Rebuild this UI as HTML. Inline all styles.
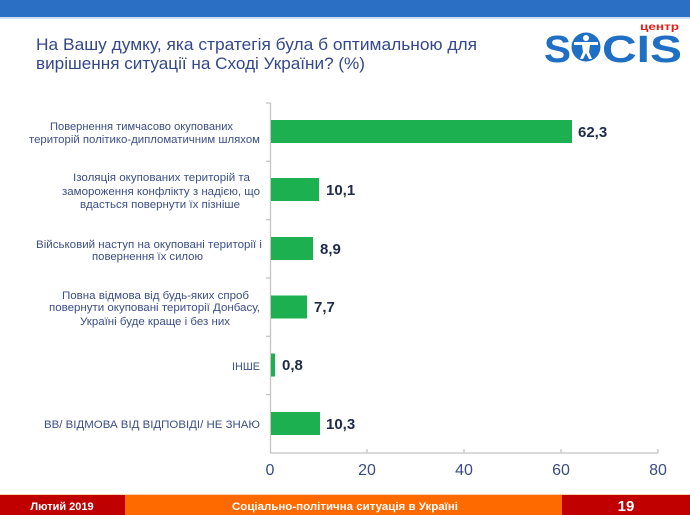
<!DOCTYPE html>
<html><head><meta charset="utf-8"><style>
html,body{margin:0;padding:0;background:#fff;}
svg{display:block;}
</style></head><body>
<svg width="690" height="515" viewBox="0 0 690 515" xmlns="http://www.w3.org/2000/svg" font-family="'Liberation Sans', sans-serif">
<rect x="0" y="0" width="690" height="17" fill="#2b6fc5"/>
<rect x="0" y="17" width="690" height="2" fill="#cfe0f3"/>
<g fill="#34478a" font-size="17">
<text x="36" y="50" textLength="441" lengthAdjust="spacingAndGlyphs">На Вашу думку, яка стратегія була б оптимальною для</text>
<text x="36" y="69" textLength="329" lengthAdjust="spacingAndGlyphs">вирішення ситуації на Сході України? (%)</text>
</g>
<!-- logo -->
<text x="640" y="30" font-size="10" font-weight="bold" fill="#e0201b" textLength="39" lengthAdjust="spacingAndGlyphs">центр</text>
<text x="544" y="62" font-size="38" font-weight="bold" fill="#1f6fc4" textLength="27" lengthAdjust="spacingAndGlyphs">S</text>
<circle cx="586" cy="47" r="14.5" fill="#1f6fc4"/>
<g fill="#fff">
<circle cx="586" cy="38" r="3"/>
<path d="M574 42 L598 42 L598 45 L590 45 L589 52 L592 59 L589 59 L586 53 L583 59 L580 59 L583 52 L582 45 L574 45 Z"/>
</g>
<text x="602" y="62" font-size="38" font-weight="bold" fill="#1f6fc4" textLength="80" lengthAdjust="spacingAndGlyphs">CIS</text>
<!-- axes -->
<g stroke="#c4c4c4" stroke-width="1.3" fill="none">
<line x1="270.5" y1="103" x2="270.5" y2="453"/>
<line x1="270" y1="453" x2="658" y2="453"/>
<line x1="266" y1="103" x2="270" y2="103"/>
<line x1="266" y1="161.3" x2="270" y2="161.3"/>
<line x1="266" y1="219.6" x2="270" y2="219.6"/>
<line x1="266" y1="278" x2="270" y2="278"/>
<line x1="266" y1="336.3" x2="270" y2="336.3"/>
<line x1="266" y1="394.6" x2="270" y2="394.6"/>
<line x1="367" y1="449" x2="367" y2="453"/>
<line x1="464" y1="449" x2="464" y2="453"/>
<line x1="561" y1="449" x2="561" y2="453"/>
<line x1="658" y1="449" x2="658" y2="453"/>
</g>
<!-- bars -->
<g fill="#1cb050">
<rect x="271" y="120" width="301" height="23"/>
<rect x="271" y="178" width="48" height="23"/>
<rect x="271" y="237" width="42" height="23"/>
<rect x="271" y="295.5" width="36" height="23"/>
<rect x="271" y="353.5" width="4" height="23"/>
<rect x="271" y="412" width="49" height="23"/>
</g>
<!-- values -->
<g fill="#1f2b4a" font-size="15" font-weight="bold">
<text x="578" y="137">62,3</text>
<text x="326" y="195">10,1</text>
<text x="320" y="254">8,9</text>
<text x="314" y="312">7,7</text>
<text x="282" y="370">0,8</text>
<text x="326" y="429">10,3</text>
</g>
<!-- labels -->
<g fill="#3b4e85" font-size="11">
<text x="50" y="130" textLength="183" lengthAdjust="spacingAndGlyphs">Повернення тимчасово окупованих</text>
<text x="29" y="143" textLength="231" lengthAdjust="spacingAndGlyphs">територій політико-дипломатичним шляхом</text>
<text x="73" y="181" textLength="177" lengthAdjust="spacingAndGlyphs">Ізоляція окупованих територій та</text>
<text x="62" y="195" textLength="198" lengthAdjust="spacingAndGlyphs">замороження конфлікту з надією, що</text>
<text x="80" y="208" textLength="160" lengthAdjust="spacingAndGlyphs">вдасться повернути їх пізніше</text>
<text x="36" y="248" textLength="226" lengthAdjust="spacingAndGlyphs">Військовий наступ на окуповані території і</text>
<text x="92" y="260" textLength="111" lengthAdjust="spacingAndGlyphs">повернення їх силою</text>
<text x="62" y="299" textLength="187" lengthAdjust="spacingAndGlyphs">Повна відмова від будь-яких спроб</text>
<text x="49" y="311" textLength="211" lengthAdjust="spacingAndGlyphs">повернути окуповані території Донбасу,</text>
<text x="80" y="325" textLength="150" lengthAdjust="spacingAndGlyphs">Україні буде краще і без них</text>
<text x="232" y="370" textLength="28" lengthAdjust="spacingAndGlyphs">ІНШЕ</text>
<text x="44" y="428" textLength="216" lengthAdjust="spacingAndGlyphs">ВВ/ ВІДМОВА ВІД ВІДПОВІДІ/ НЕ ЗНАЮ</text>
</g>
<!-- tick labels -->
<g fill="#3a4d82" font-size="16" text-anchor="middle">
<text x="270" y="475">0</text>
<text x="367" y="475">20</text>
<text x="464" y="475">40</text>
<text x="561" y="475">60</text>
<text x="658" y="475">80</text>
</g>
<!-- footer -->
<rect x="0" y="494" width="690" height="1" fill="#ffd0a8"/>
<rect x="0" y="495" width="125" height="20" fill="#c00000"/>
<rect x="125" y="495" width="437" height="20" fill="#ff6a00"/>
<rect x="562" y="495" width="128" height="20" fill="#c00000"/>
<g fill="#fff" font-weight="bold" text-anchor="middle">
<text x="62" y="510" font-size="11">Лютий 2019</text>
<text x="345" y="510" font-size="11" textLength="226" lengthAdjust="spacingAndGlyphs">Соціально-політична ситуація в Україні</text>
<text x="626" y="511" font-size="15">19</text>
</g>
</svg>
</body></html>
